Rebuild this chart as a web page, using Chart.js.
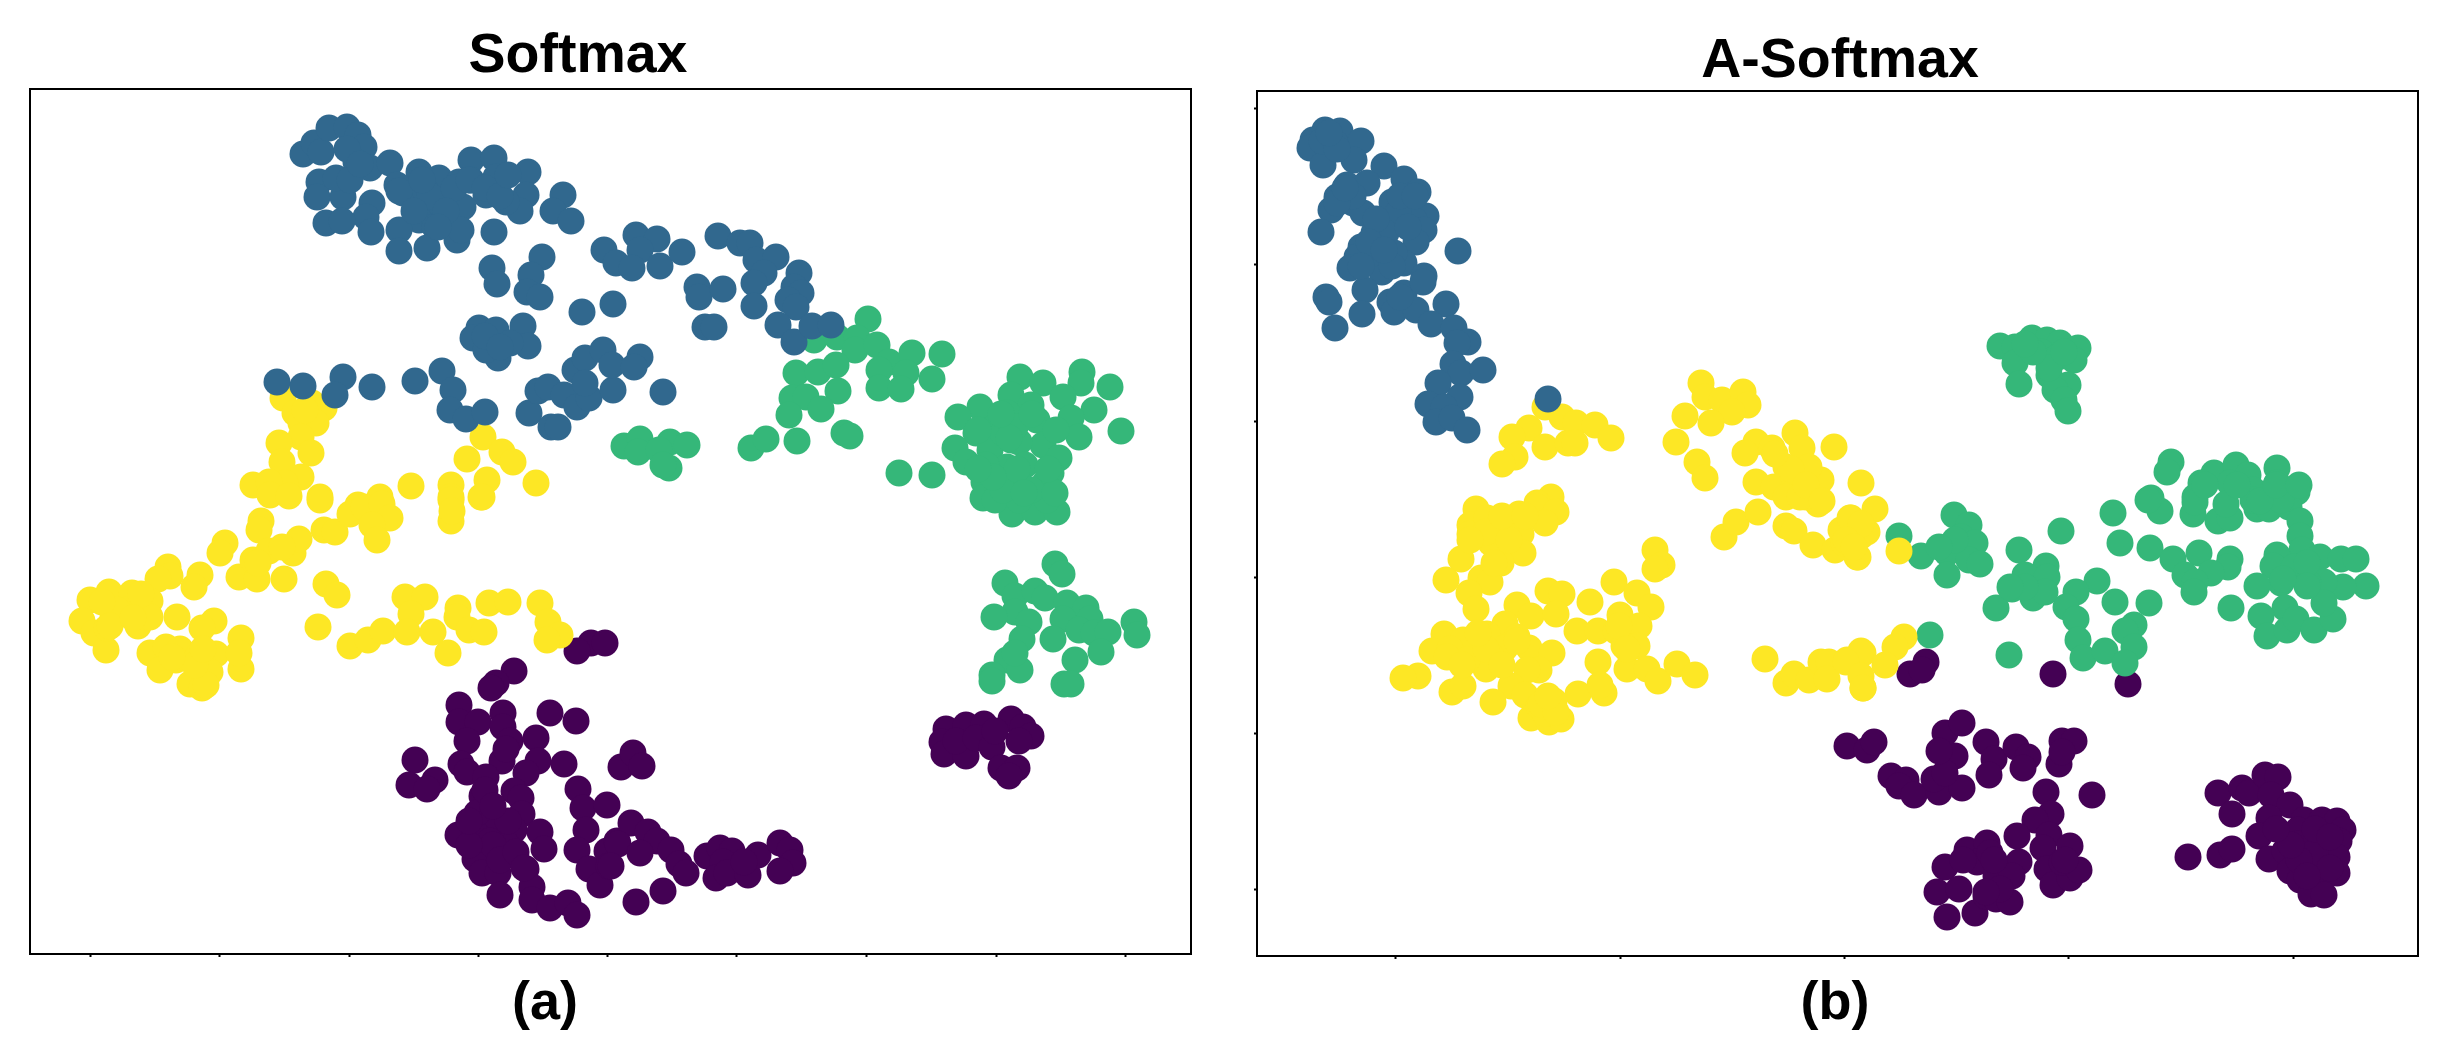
<!DOCTYPE html>
<html>
<head>
<meta charset="utf-8">
<title>Softmax / A-Softmax</title>
<script src="https://cdn.jsdelivr.net/npm/chart.js@4"></script>
<style>
  html, body { margin: 0; padding: 0; background: #fff; }
  body { width: 2452px; height: 1057px; position: relative; overflow: hidden; }
  canvas { position: absolute; top: 0; }
  #chartA { left: 0; }
  #chartB { left: 1226px; }
  .label { position: absolute; transform: translateX(-50%); font-family: "Liberation Sans", Arial, sans-serif;
           font-weight: bold; line-height: 1; color: #000; white-space: nowrap; }
</style>
</head>
<body>
<canvas id="chartA" width="1226" height="1057"></canvas>
<canvas id="chartB" width="1226" height="1057"></canvas>
<div class="label" style="left:578px;top:26px;font-size:55.5px">Softmax</div>
<div class="label" style="left:1840px;top:31px;font-size:55.5px">A-Softmax</div>
<div class="label" style="left:545px;top:973px;font-size:54px">(a)</div>
<div class="label" style="left:1835px;top:973px;font-size:54px">(b)</div>
<script>
// values, arbitrary t-SNE units
const softmaxBlue = [[273,800],[284,811],[291,802],[299,826],[317,827],[328,819],[334,807],[326,792],[340,786],[360,791],[389,782],[367,769],[373,761],[409,776],[429,772],[441,794],[464,796],[498,782],[496,759],[490,743],[476,752],[456,759],[466,777],[441,774],[395,764],[403,751],[433,747],[389,734],[405,727],[397,706],[427,714],[431,724],[369,724],[369,703],[464,722],[289,772],[287,757],[313,757],[306,776],[320,774],[342,751],[336,737],[341,722],[296,731],[312,733],[533,759],[523,743],[541,733],[462,686],[467,670],[512,697],[501,679],[497,662],[510,657],[552,642],[583,650],[449,626],[466,624],[493,628],[443,616],[498,608],[468,596],[456,604],[480,611],[247,572],[273,568],[313,577],[305,559],[342,567],[385,573],[412,583],[423,564],[420,544],[436,535],[455,542],[499,541],[508,563],[518,567],[534,559],[521,527],[528,527],[547,547],[559,556],[545,584],[555,596],[573,604],[555,571],[583,564],[606,719],[627,715],[610,704],[574,704],[586,691],[602,686],[630,688],[652,702],[667,667],[669,657],[693,665],[688,718],[710,711],[720,711],[726,694],[746,697],[734,681],[724,671],[724,648],[769,681],[764,667],[771,661],[758,654],[766,647],[748,629],[764,612],[782,628],[801,629],[675,627],[684,627],[582,589],[610,597],[604,587],[633,562],[369,763],[400,758],[424,766],[416,743],[384,743],[439,774],[455,766],[470,758],[478,779],[317,805],[330,790],[392,774],[408,727],[455,618],[470,607]];
const softmaxGreen = [[594,508],[610,515],[608,502],[640,512],[657,509],[629,504],[639,486],[633,489],[721,506],[736,515],[767,513],[814,521],[820,518],[869,481],[902,479],[784,614],[807,617],[838,635],[827,616],[825,604],[847,609],[859,592],[882,601],[912,600],[902,575],[876,581],[849,584],[849,566],[871,565],[766,581],[788,582],[806,589],[808,563],[762,556],[776,557],[759,539],[791,545],[990,577],[1013,571],[1052,582],[1051,571],[1080,567],[1064,544],[1033,557],[981,559],[1001,549],[1007,534],[1041,536],[1049,517],[1091,523],[1013,509],[1029,496],[1021,481],[950,547],[928,537],[977,541],[965,527],[946,521],[925,506],[936,492],[960,504],[981,514],[989,512],[973,521],[985,527],[995,489],[977,487],[956,489],[954,472],[1015,471],[989,471],[953,456],[982,440],[1005,442],[1027,442],[965,454],[989,454],[1017,454],[1001,464],[973,464],[1025,461],[1025,390],[1032,380],[975,371],[985,358],[1005,363],[1015,356],[985,342],[964,337],[999,332],[992,315],[1037,351],[1056,346],[1033,335],[1060,335],[1023,315],[1049,324],[1064,321],[1078,322],[1071,302],[1104,332],[1107,319],[1045,294],[977,294],[990,284],[962,279],[962,273],[1034,270],[1041,270],[985,301],[948,524],[987,485],[1002,540],[963,477],[1018,485],[979,516],[994,461],[948,485],[971,540],[1026,524]];
const softmaxPurple = [[561,311],[575,311],[547,303],[484,283],[466,271],[461,266],[429,249],[429,232],[448,232],[437,213],[473,241],[473,227],[480,213],[472,193],[476,205],[506,216],[508,193],[496,181],[520,241],[546,233],[534,190],[385,194],[405,174],[379,169],[397,165],[431,190],[437,182],[456,177],[452,158],[484,163],[491,156],[460,145],[492,140],[548,165],[553,146],[577,149],[556,124],[547,104],[428,119],[452,127],[468,135],[484,124],[510,122],[514,105],[460,113],[476,110],[445,95],[452,81],[468,81],[484,99],[496,85],[502,67],[470,59],[502,54],[520,46],[538,51],[547,39],[591,187],[559,85],[570,69],[577,103],[587,113],[579,88],[603,201],[612,188],[601,131],[618,122],[588,110],[627,113],[641,104],[610,101],[581,88],[649,90],[656,81],[606,52],[633,63],[677,98],[690,106],[702,103],[693,92],[686,76],[697,81],[718,79],[728,99],[714,92],[750,111],[760,104],[763,91],[750,83],[916,225],[912,212],[914,200],[936,229],[936,198],[926,213],[954,230],[946,216],[962,207],[981,235],[993,227],[1001,218],[989,213],[971,186],[987,186],[979,178],[965,223],[447,141],[463,109],[478,133],[455,164],[470,94],[439,109],[486,102],[463,148],[494,86],[439,133]];
const softmaxYellow = [[253,556],[265,541],[282,551],[294,546],[271,531],[286,531],[271,517],[249,511],[281,501],[252,492],[271,477],[255,471],[223,469],[239,472],[290,457],[328,449],[350,457],[381,468],[421,469],[453,517],[437,495],[472,502],[483,492],[457,474],[451,457],[506,471],[421,457],[240,459],[259,458],[290,454],[421,454],[452,457],[231,433],[229,424],[195,411],[190,401],[170,379],[164,367],[138,387],[140,378],[128,375],[209,377],[227,375],[223,394],[239,403],[263,401],[269,415],[254,375],[294,424],[305,422],[320,440],[334,447],[352,450],[360,436],[342,429],[347,414],[421,433],[422,443],[296,370],[307,359],[288,327],[320,308],[338,314],[353,323],[375,357],[395,357],[381,340],[377,322],[403,322],[418,301],[428,346],[427,337],[439,324],[454,322],[459,351],[478,352],[510,351],[518,332],[530,319],[517,314],[60,354],[79,362],[102,361],[52,333],[64,321],[76,304],[83,337],[77,326],[108,328],[120,353],[120,337],[97,344],[147,337],[184,333],[172,326],[120,301],[136,307],[150,305],[130,284],[146,294],[168,298],[186,300],[180,282],[160,270],[172,266],[211,316],[211,285],[209,301],[176,269],[87,344],[111,360],[72,352],[80,328],[165,289],[142,297],[173,305],[103,336],[252,407],[228,391],[275,544]];

const asoftBlue = [[68,826],[83,825],[56,816],[53,808],[104,815],[78,813],[66,791],[97,796],[127,790],[147,777],[161,764],[90,771],[110,773],[80,759],[74,746],[64,724],[96,753],[106,743],[135,754],[149,753],[169,740],[157,736],[167,726],[159,714],[201,705],[141,743],[117,723],[129,723],[104,709],[100,699],[93,688],[125,684],[147,693],[167,680],[137,703],[117,703],[69,659],[72,654],[108,666],[105,642],[78,628],[133,654],[137,644],[147,663],[159,646],[189,652],[174,632],[197,628],[211,614],[200,613],[196,592],[204,583],[226,586],[181,573],[203,559],[171,552],[187,549],[179,534],[195,538],[210,526],[291,557],[96,760],[119,737],[80,753],[112,714],[135,690],[127,706],[151,729],[88,768],[166,674],[143,659],[65,815],[80,807],[72,823],[104,690],[143,760],[158,760]];
const asoftGreen = [[743,610],[775,618],[790,616],[803,613],[821,608],[758,609],[758,593],[784,604],[801,599],[817,596],[762,572],[792,581],[811,571],[798,566],[807,556],[811,545],[914,494],[910,484],[894,458],[957,483],[979,491],[991,481],[944,473],[938,459],[1020,488],[1020,473],[1040,464],[973,473],[996,466],[1028,461],[903,445],[891,456],[936,442],[938,454],[961,435],[973,438],[1000,447],[1012,447],[1032,449],[969,452],[996,456],[1024,456],[1043,435],[1043,420],[1045,406],[1020,401],[1016,390],[1037,389],[1063,399],[1084,397],[1099,397],[1109,370],[1086,369],[1067,374],[1051,373],[1024,373],[1000,370],[1028,348],[1004,340],[1010,320],[1030,326],[1039,337],[1057,326],[1076,337],[1067,353],[974,348],[893,408],[916,397],[942,403],[973,397],[971,389],[954,383],[928,381],[938,374],[937,364],[863,413],[856,443],[804,425],[892,353],[858,354],[840,375],[819,364],[809,349],[819,337],[877,331],[868,325],[821,316],[877,309],[826,298],[848,305],[868,293],[762,406],[789,390],[768,381],[790,379],[755,367],[776,358],[788,364],[739,348],[752,301],[697,441],[712,431],[704,419],[718,413],[690,403],[712,396],[723,392],[690,381],[664,400],[642,420],[673,321],[792,588],[776,604],[768,612],[807,604],[948,471],[980,471],[1003,455],[1019,471],[1042,471],[1050,393],[1050,370],[1026,377],[698,416],[682,409],[768,369],[753,369]];
const asoftPurple = [[590,210],[610,206],[617,214],[634,180],[649,176],[642,170],[657,161],[682,164],[705,168],[677,177],[698,200],[688,183],[688,223],[705,233],[653,282],[669,294],[665,286],[796,282],[871,272],[729,214],[737,197],[732,181],[759,209],[771,199],[766,188],[805,215],[817,215],[802,192],[805,204],[789,164],[835,161],[794,142],[778,136],[760,120],[792,121],[786,108],[813,110],[762,94],[790,87],[796,71],[813,78],[822,86],[805,94],[710,106],[730,113],[720,94],[733,103],[688,89],[680,64],[702,67],[690,39],[718,43],[729,60],[739,57],[753,54],[739,80],[755,80],[743,67],[931,99],[963,101],[975,107],[961,163],[985,168],[992,163],[975,142],[1008,181],[1021,179],[1014,161],[1033,151],[1012,138],[1002,120],[1012,97],[1028,105],[1047,136],[1065,136],[1080,135],[1086,126],[1041,126],[1063,115],[1082,115],[1045,97],[1067,97],[1080,99],[1033,85],[1043,76],[1061,80],[1080,83],[1054,62],[1067,61],[1041,112],[1058,104],[1042,96],[1073,88],[1034,111],[1058,127],[1050,80],[1073,119],[1019,127],[729,64],[737,96],[706,96],[808,96],[682,205]];
const asoftYellow = [[444,573],[428,540],[448,559],[465,556],[486,564],[491,551],[475,544],[454,533],[419,514],[440,494],[448,478],[499,514],[488,503],[515,508],[538,523],[545,508],[529,489],[499,474],[517,469],[537,479],[564,476],[552,489],[577,509],[604,473],[549,459],[529,459],[288,549],[305,539],[272,528],[255,519],[258,499],[245,492],[288,509],[311,513],[319,533],[318,513],[338,531],[354,518],[294,459],[280,453],[219,447],[213,431],[213,422],[230,438],[244,435],[262,442],[280,449],[299,444],[288,433],[234,413],[264,422],[266,403],[244,393],[204,397],[189,376],[224,378],[233,374],[212,363],[219,347],[398,406],[405,391],[398,387],[291,365],[305,362],[260,351],[274,340],[299,342],[333,354],[357,374],[380,363],[394,349],[363,341],[382,330],[320,325],[341,325],[359,325],[380,310],[367,310],[341,294],[370,287],[390,287],[401,275],[420,292],[438,281],[321,262],[347,263],[343,271],[248,332],[230,322],[260,319],[272,308],[295,303],[248,308],[234,300],[229,287],[282,286],[270,286],[187,322],[206,316],[175,305],[193,307],[210,296],[161,280],[146,278],[195,264],[206,270],[254,270],[268,261],[236,254],[274,238],[297,255],[282,250],[292,234],[304,237],[288,243],[508,297],[529,273],[537,282],[552,276],[564,294],[572,294],[570,277],[590,296],[606,303],[606,268],[467,419],[479,434],[501,444],[529,430],[537,425],[556,411],[578,406],[600,399],[584,426],[594,438],[561,452],[543,459],[604,420],[593,438],[618,447],[610,424],[601,399],[587,413],[642,405],[647,319],[638,309],[628,291],[604,305],[589,294],[604,280],[606,268],[534,487],[549,471],[518,502],[565,455],[604,432],[589,416],[597,409],[229,424],[252,416],[213,416],[245,440],[268,440],[237,393],[260,315],[229,307],[245,291],[362,330],[370,307],[284,252],[299,244],[291,260],[190,299],[205,291],[221,323]];

// tick positions, in the same units
const softmaxTicksX = [60,189,319,448,577,707,837,966,1095];
const asoftTicksX = [138,363,587,811,1036];
const asoftTicksY = [67,223,379,535,692,848];

const COLORS = { purple: '#440154', blue: '#31688e', green: '#35b779', yellow: '#fde725' };

// chart.js only draws left and bottom, so the box is done here
const boxPlugin = {
    id: 'box',
    afterDraw(chart) {
        const a = chart.chartArea, ctx = chart.ctx;
        ctx.save();
        ctx.strokeStyle = '#000';
        ctx.lineWidth = 2;
        ctx.strokeRect(a.left, a.top, a.right - a.left, a.bottom - a.top);
        ctx.restore();
    }
};

function toDataset(points, color) {
    return {
        data: points.map(p => ({ x: p[0], y: p[1] })),
        backgroundColor: color,
        borderWidth: 0,
        pointRadius: 13.5,
        pointHoverRadius: 13.5
    };
}

function axis(max, ticks, isX) {
    return {
        type: 'linear',
        min: 0,
        max: max,
        border: { display: false },
        grid: {
            display: ticks.length > 0,
            drawOnChartArea: false,
            drawTicks: true,
            tickLength: 3,
            tickWidth: 2,
            tickColor: '#000'
        },
        ticks: { display: false },
        afterBuildTicks: s => { s.ticks = ticks.map(v => ({ value: v })); },
        afterFit: s => { if (isX) s.height = 0; else s.width = 0; }
    };
}

function makeChart(id, series, ticksX, ticksY, padding) {
    // first dataset ends up on top
    new Chart(document.getElementById(id), {
        type: 'scatter',
        data: {
            datasets: [
                toDataset(series.blue, COLORS.blue),
                toDataset(series.yellow, COLORS.yellow),
                toDataset(series.green, COLORS.green),
                toDataset(series.purple, COLORS.purple)
            ]
        },
        options: {
            responsive: false,
            animation: false,
            events: [],
            layout: { padding: padding },
            plugins: { legend: { display: false }, title: { display: false }, tooltip: { enabled: false } },
            scales: { x: axis(1161, ticksX, true), y: axis(865, ticksY, false) }
        },
        plugins: [boxPlugin]
    });
}

makeChart('chartA', { blue: softmaxBlue, green: softmaxGreen, purple: softmaxPurple, yellow: softmaxYellow },
    softmaxTicksX, [], { left: 30, top: 89, right: 35, bottom: 103 });
makeChart('chartB', { blue: asoftBlue, green: asoftGreen, purple: asoftPurple, yellow: asoftYellow },
    asoftTicksX, asoftTicksY, { left: 31, top: 91, right: 34, bottom: 101 });
</script>
</body>
</html>
